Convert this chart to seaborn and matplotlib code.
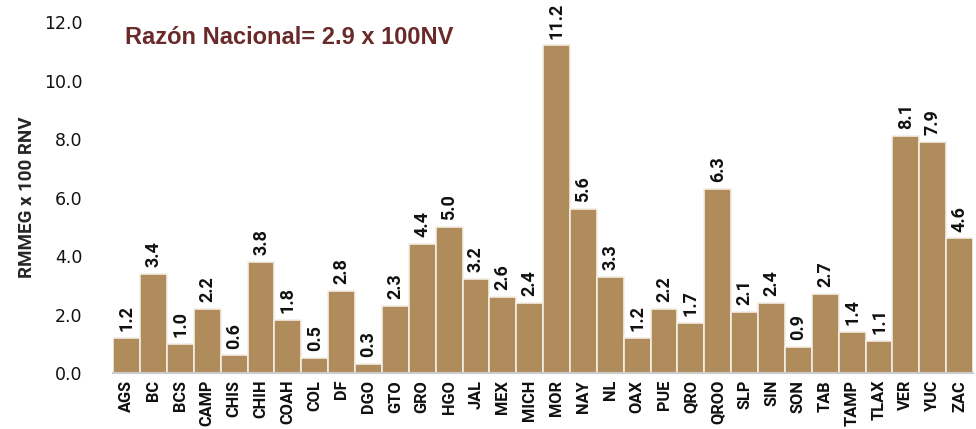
import matplotlib
matplotlib.use("Agg")
import matplotlib.pyplot as plt
import seaborn as sns
import pandas as pd

states = ["AGS","BC","BCS","CAMP","CHIS","CHIH","COAH","COL","DF","DGO","GTO","GRO","HGO","JAL",
          "MEX","MICH","MOR","NAY","NL","OAX","PUE","QRO","QROO","SLP","SIN","SON","TAB","TAMP",
          "TLAX","VER","YUC","ZAC"]
values = [1.2,3.4,1.0,2.2,0.6,3.8,1.8,0.5,2.8,0.3,2.3,4.4,5.0,3.2,
          2.6,2.4,11.2,5.6,3.3,1.2,2.2,1.7,6.3,2.1,2.4,0.9,2.7,1.4,
          1.1,8.1,7.9,4.6]
yticks = [0, 2, 4, 6, 8, 10, 12]
title_text = "Razón Nacional= 2.9 x 100NV"
ylabel_text = "RMMEG x 100 RNV"

sns.set_style("white")
plt.rcParams['font.family'] = ['DejaVu Sans']

df = pd.DataFrame({"estado": states, "valor": values})

fig = plt.figure(figsize=(9.76, 4.29), dpi=100)
ax = fig.add_axes([0.116, 0.1305, 0.881, 0.818])
sns.barplot(data=df, x="estado", y="valor", color="#B08C5C", saturation=1,
            width=1.0, edgecolor="#F4EEE4", linewidth=1.2, ax=ax)

ax.set_ylim(0, 12)
ax.set_xlim(-0.5, len(states) - 0.5)
ax.set_yticks(yticks)
ax.set_yticklabels([f"{v:.1f}" for v in yticks], fontsize=12.5, color="#111111")
ax.set_xticks(range(len(states)))
ax.set_xticklabels(states, rotation=90, fontsize=11.8, fontweight="bold", color="#111111",
                   family="Roboto")
ax.tick_params(axis="both", length=0)
ax.tick_params(axis="x", pad=5)
ax.tick_params(axis="y", pad=22)
ax.set_xlabel("")
ax.set_ylabel(ylabel_text, fontsize=13.5, fontweight="bold", family="Roboto", labelpad=6)

for s in ["top", "right", "left"]:
    ax.spines[s].set_visible(False)
ax.spines["bottom"].set_color("#CCCCCC")
ax.spines["bottom"].set_linewidth(1.5)

for i, v in enumerate(values):
    ax.annotate(f"{v:.1f}", (i, v), xytext=(0, 5), textcoords="offset points",
                rotation=90, ha="center", va="bottom", fontsize=13, fontweight="bold",
                family="Roboto", color="#111111")

fig.text(0.128, 0.912, title_text, fontsize=17, fontweight="bold",
         family="Liberation Sans", color="#6B2A2A", va="center", ha="left")

fig.savefig("out.png", dpi=100)
